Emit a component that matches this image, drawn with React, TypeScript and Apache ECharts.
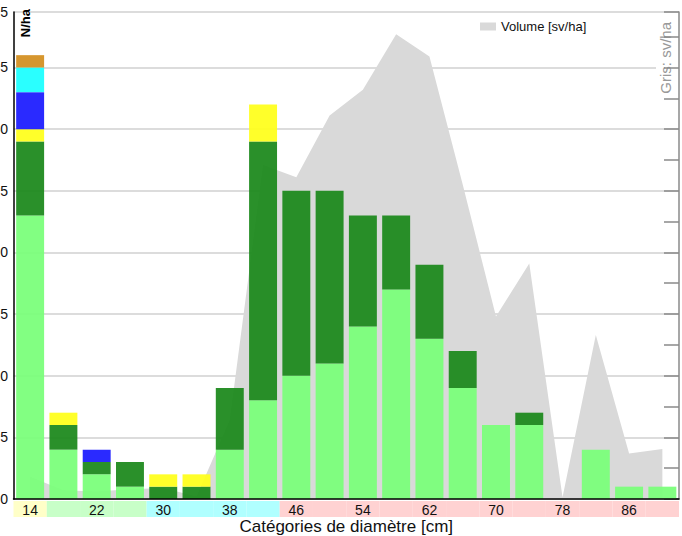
import React, { useEffect, useRef } from "react";
import * as echarts from "echarts";

// Diameter classes (cm)
const categories = ["14","18","22","26","30","34","38","42","46","50","54","58","62","66","70","74","78","82","86","90"];

// Stems per hectare, stacked segments
const lightGreen = [23, 4, 2, 1, 0, 0, 4, 8, 10, 11, 14, 17, 13, 9, 6, 6, 0, 4, 1, 1];
const darkGreen  = [6, 2, 1, 2, 1, 1, 5, 21, 15, 14, 9, 6, 6, 3, 0, 1, 0, 0, 0, 0];
const yellow     = [1, 1, 0, 0, 1, 1, 0, 3, 0, 0, 0, 0, 0, 0, 0, 0, 0, 0, 0, 0];
const blue       = [3, 0, 1, 0, 0, 0, 0, 0, 0, 0, 0, 0, 0, 0, 0, 0, 0, 0, 0, 0];
const cyan       = [2, 0, 0, 0, 0, 0, 0, 0, 0, 0, 0, 0, 0, 0, 0, 0, 0, 0, 0, 0];
const orange     = [1, 0, 0, 0, 0, 0, 0, 0, 0, 0, 0, 0, 0, 0, 0, 0, 0, 0, 0, 0];

// Volume (sv/ha), grey area
const volume = [1.8, 0.7, 0.6, 0.8, 0.9, 0.2, 6.4, 27.1, 26.1, 31.1, 33.2, 37.7, 35.9, 25.5, 14.8, 19.1, 0.15, 13.3, 3.7, 4.05];

// Class band under the axis
const bandClass = ["y","g","g","g","c","c","c","c","p","p","p","p","p","p","p","p","p","p","p","p"];
const bandPalette: Record<string, string> = { y: "#ffffc8", g: "#c8ffc8", c: "#b0ffff", p: "#ffd2d2" };

const FONT = "'Liberation Sans', Arial, sans-serif";

export default function App() {
  const ref = useRef<HTMLDivElement>(null);
  useEffect(() => {
    if (!ref.current) return;
    const chart = echarts.init(ref.current, undefined, { renderer: "svg" });
    const barOpacity = 0.93;
    const mkBar = (name: string, data: number[], color: string) => ({
      name,
      type: "bar",
      stack: "n",
      xAxisIndex: 0,
      yAxisIndex: 0,
      barCategoryGap: "16%",
      data,
      z: 3,
      silent: true,
      itemStyle: { color, opacity: barOpacity },
    });
    chart.setOption({
      animation: false,
      backgroundColor: "#ffffff",
      textStyle: { fontFamily: FONT },
      grid: [
        { left: 53.5, right: 3, top: 12, bottom: 37, outerBoundsMode: "none" },
        { left: 53.5, right: 3, top: 501, height: 16, outerBoundsMode: "none" },
      ],
      legend: {
        data: ["Volume [sv/ha]"],
        left: 515,
        top: 15,
        icon: "rect",
        itemWidth: 16,
        itemHeight: 8,
        itemGap: 10,
        textStyle: { fontSize: 13, color: "#111", fontFamily: FONT },
      },
      xAxis: [
        {
          type: "category",
          gridIndex: 0,
          data: categories,
          z: 5,
          axisLine: { lineStyle: { color: "#000", width: 1.5 } },
          axisTick: { show: false },
          axisLabel: { interval: 1, margin: 4, fontSize: 14, color: "#111", fontFamily: FONT },
          name: "Catégories de diamètre [cm]",
          nameLocation: "middle",
          nameGap: 19,
          nameMoveOverlap: false,
          nameTextStyle: { fontSize: 17, color: "#111", fontFamily: FONT },
        },
        {
          type: "category",
          gridIndex: 1,
          data: categories,
          show: false,
        },
      ],
      yAxis: [
        {
          type: "value",
          gridIndex: 0,
          min: 0,
          max: 39.5,
          interval: 5,
          axisLine: { show: true, lineStyle: { color: "#000", width: 1.5 } },
          axisTick: { show: false },
          axisLabel: { fontSize: 14, margin: 5.5, color: "#111", fontFamily: FONT },
          splitLine: { lineStyle: { color: "#d0d0d0", width: 1.5 } },
          name: "N/ha",
          nameLocation: "end",
          nameRotate: 90,
          nameGap: 3,
          nameTextStyle: {
            align: "right",
            verticalAlign: "top",
            padding: [5, 0, 0, 0],
            fontWeight: "bold",
            fontSize: 13,
            color: "#000",
            fontFamily: FONT,
          },
        },
        {
          type: "value",
          gridIndex: 0,
          position: "right",
          min: 0,
          max: 39.5,
          interval: 2.5,
          axisLine: { show: true, lineStyle: { color: "#8a8a8a", width: 1.5 } },
          axisTick: { show: true, inside: true, length: 15, lineStyle: { color: "#8a8a8a", width: 1.5 } },
          axisLabel: { show: false },
          splitLine: { show: false },
          name: "Gris: sv/ha",
          nameLocation: "end",
          nameRotate: 90,
          nameGap: -10,
          nameTextStyle: {
            align: "right",
            verticalAlign: "bottom",
            padding: [2, 0, 6, 0],
            backgroundColor: "#ffffff",
            fontSize: 15,
            color: "#999",
            fontFamily: FONT,
          },
        },
        {
          type: "value",
          gridIndex: 1,
          min: 0,
          max: 1,
          show: false,
        },
      ],
      series: [
        {
          name: "Volume [sv/ha]",
          type: "line",
          xAxisIndex: 0,
          yAxisIndex: 1,
          data: volume,
          symbol: "none",
          silent: true,
          z: 1,
          color: "#d9d9d9",
          itemStyle: { color: "#d9d9d9" },
          lineStyle: { width: 0, color: "#d9d9d9" },
          areaStyle: { color: "#d9d9d9", opacity: 1 },
        },
        mkBar("lightGreen", lightGreen, "#78ff78"),
        mkBar("darkGreen", darkGreen, "#1a881a"),
        mkBar("yellow", yellow, "#ffff1a"),
        mkBar("blue", blue, "#1a1aff"),
        mkBar("cyan", cyan, "#1affff"),
        mkBar("orange", orange, "#d38e1e"),
        {
          name: "band",
          type: "bar",
          xAxisIndex: 1,
          yAxisIndex: 2,
          barCategoryGap: "0%",
          silent: true,
          z: 1,
          data: bandClass.map((c) => ({ value: 1, itemStyle: { color: bandPalette[c] } })),
        },
      ],
    });
    return () => chart.dispose();
  }, []);
  return (
    <div
      ref={ref}
      style={{ position: "fixed", left: -40, top: 0, width: 722, height: 536 }}
    />
  );
}
